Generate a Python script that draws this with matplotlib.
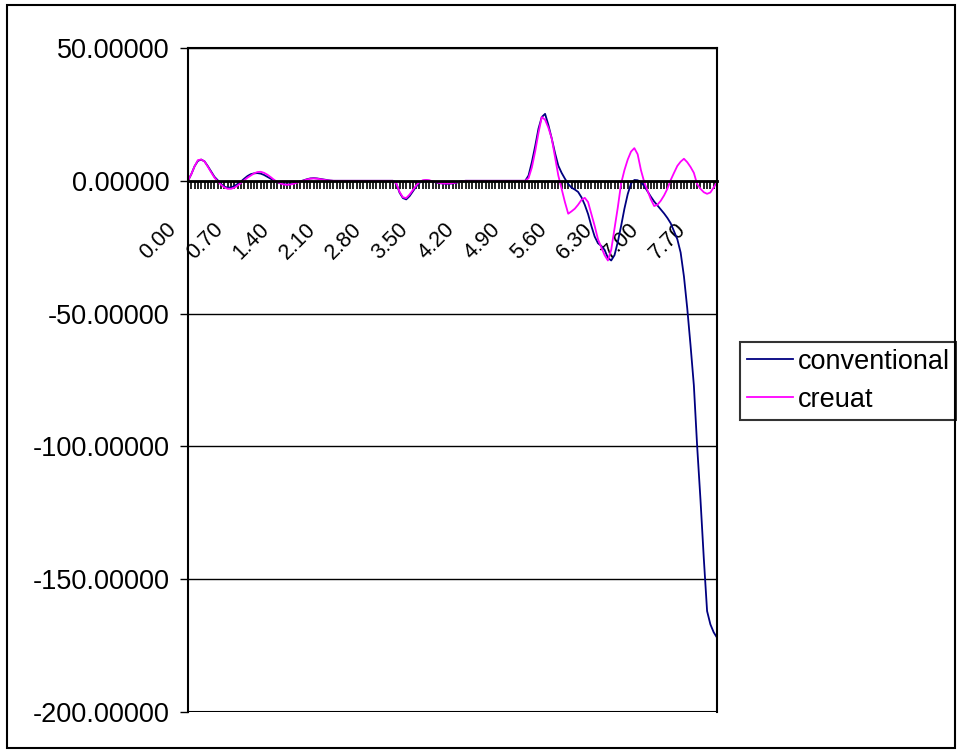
import numpy as np
import matplotlib.pyplot as plt
import matplotlib.transforms as mtransforms
from matplotlib.patches import Rectangle
from matplotlib.ticker import MultipleLocator, FormatStrFormatter

plt.rcParams['font.family'] = ['Liberation Sans', 'DejaVu Sans']

# Category axis: 0.00 to 8.00 step 0.05
categories = [f"{i * 0.05:.2f}" for i in range(161)]

# Series values (10 values per row of 0.50)
conventional = [
    0, 2.5, 5.5, 7.5, 8.0, 7.3, 5.5, 3.5, 1.5, 0.2,
    -1.2, -2.2, -2.6, -2.5, -2.0, -1.2, -0.3, 0.8, 1.8, 2.5,
    2.8, 2.9, 2.7, 2.2, 1.5, 0.8, 0.1, -0.5, -1.0, -1.3,
    -1.4, -1.3, -1.0, -0.6, -0.2, 0.2, 0.6, 0.9, 1.0, 0.9,
    0.7, 0.5, 0.3, 0.1, 0, 0, 0, 0, 0, 0,
    0, 0, 0, 0, 0, 0, 0, 0, 0, 0,
    0, 0, 0, -1.0, -4.5, -6.5, -7.0, -5.8, -4.0, -2.2,
    -0.8, 0, 0.2, 0, -0.3, -0.6, -0.9, -1.0, -1.1, -1.1,
    -1.0, -0.8, -0.4, -0.1, 0, 0, 0, 0, 0, 0,
    0, 0, 0, 0, 0, 0, 0, 0, 0, 0,
    0, 0, 0, 2, 7, 13, 19.6, 24, 25.2, 21,
    16, 10.5, 5.7, 3, 0.8, -1.2, -2.6, -3.3, -4.2, -6.2,
    -9, -12.5, -17, -21, -23.5, -24.5, -26, -29, -30, -28,
    -23, -17, -10.5, -5, -1, 0.3, 0.2, -0.5, -2, -4,
    -6, -7.8, -9.3, -10.8, -12.3, -14, -16, -19, -22, -27,
    -36, -48, -62, -77, -100, -120, -142, -162, -167, -170,
    -172,
]

creuat = [
    0, 2.5, 5.5, 7.8, 8.0, 7.3, 5.3, 3.2, 1.2, -0.2,
    -1.5, -2.5, -3.0, -3.0, -2.6, -1.8, -0.8, 0.2, 1.2, 2.0,
    2.8, 3.3, 3.4, 3.0, 2.3, 1.4, 0.4, -0.4, -1.0, -1.4,
    -1.5, -1.4, -1.1, -0.7, -0.3, 0.1, 0.5, 0.8, 0.9, 0.8,
    0.6, 0.4, 0.2, 0.1, 0, 0, 0, 0, 0, 0,
    0, 0, 0, 0, 0, 0, 0, 0, 0, 0,
    0, 0, 0, -1.0, -4.2, -6.2, -6.5, -5.2, -3.5, -1.8,
    -0.5, 0.2, 0.3, 0.2, -0.2, -0.5, -0.8, -1.0, -1.0, -1.0,
    -0.9, -0.7, -0.4, -0.1, 0, 0, 0, 0, 0, 0,
    0, 0, 0, 0, 0, 0, 0, 0, 0, 0,
    0, 0, 0, 1, 5, 11, 18, 24, 23, 20,
    16, 9, 2, -3, -8, -12.4, -11.5, -10.5, -9, -7.2,
    -6.4, -8, -12.5, -17, -22, -25, -28, -30, -26, -18,
    -10, -1, 4, 8, 11, 12.3, 10, 4, -0.5, -3.7,
    -7, -9.5, -9, -7.5, -5.5, -3, 0.3, 3, 5.6, 7.2,
    8.3, 7, 5.2, 3, -1.3, -3, -4.3, -4.9, -4.4, -2.5,
    -0.5,
]

fs = 19.5
fig = plt.figure(figsize=(9.57, 7.51), dpi=100)
ax = fig.add_axes([188 / 957, 1 - 712 / 751, 529 / 957, 664 / 751])

x = np.arange(len(categories))
ax.plot(x, conventional, color='#000080', lw=1.3, label='conventional')
ax.plot(x, creuat, color='#FF00FF', lw=1.3, label='creuat')

# y axis
ax.set_ylim(-200, 50)
ax.yaxis.set_major_locator(MultipleLocator(50))
ax.yaxis.set_major_formatter(FormatStrFormatter('%.5f'))
ax.grid(axis='y', color='black', lw=1)
ax.axhline(-200, color='black', lw=1.5)
ax.tick_params(axis='y', direction='out', length=6, width=1, pad=7, labelsize=fs)

# x axis sits on the zero line
ax.set_xlim(0, len(categories) - 1)
ax.spines['bottom'].set_position(('data', 0))
ax.spines['bottom'].set_linewidth(2)
ax.set_xticks(x[::14])
ax.set_xticklabels(categories[::14])
ax.set_xticks(x, minor=True)
ax.tick_params(axis='x', which='both', direction='out', length=6, width=1.2)
ax.tick_params(axis='x', which='major', labelsize=15.5, pad=2)
shift = mtransforms.ScaledTranslation(-22 / 100, -27 / 100, fig.dpi_scale_trans)
for lab in ax.get_xticklabels():
    lab.set_rotation(45)
    lab.set_ha('right')
    lab.set_va('top')
    lab.set_rotation_mode('anchor')
    lab.set_transform(lab.get_transform() + shift)
for s in ['top', 'right', 'left']:
    ax.spines[s].set_linewidth(1.5)

leg = ax.legend(loc='upper left', bbox_to_anchor=(740 / 957, 1 - 342 / 751),
                bbox_transform=fig.transFigure, fontsize=fs, frameon=True,
                fancybox=False, edgecolor='black', borderaxespad=0,
                handlelength=1.7, handletextpad=0.2, labelspacing=0.45,
                borderpad=0.25)
leg.get_frame().set_linewidth(1.5)

# outer chart border
fig.patches.append(Rectangle((7 / 957, 1 - 748 / 751), 948 / 957, 743 / 751,
                             transform=fig.transFigure, fill=False,
                             edgecolor='black', lw=1.5))

fig.savefig('out.png', dpi=100)
